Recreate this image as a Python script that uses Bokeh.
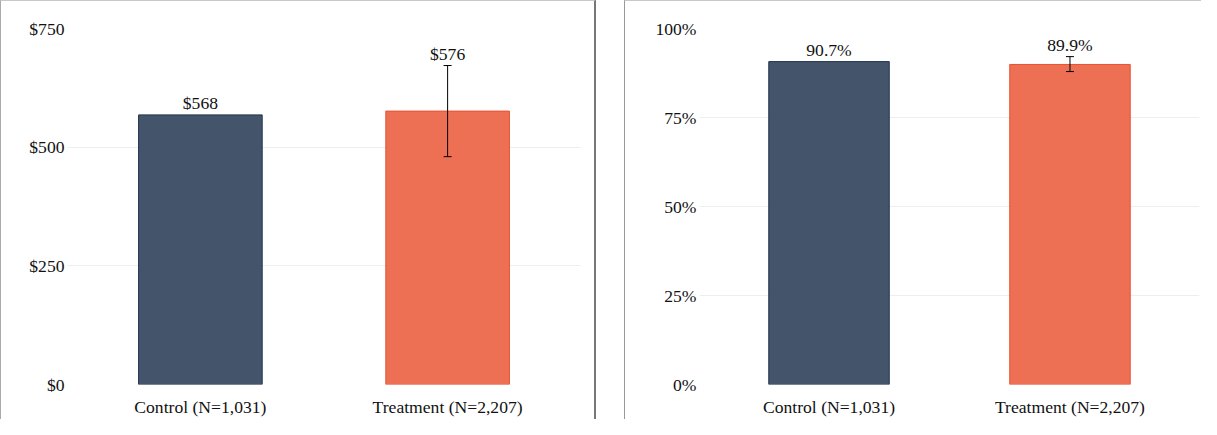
from bokeh.plotting import figure
from bokeh.layouts import row
from bokeh.models import (ColumnDataSource, FactorRange, FixedTicker, NumeralTickFormatter,
                          Whisker, TeeHead, Spacer, Range1d)
from bokeh.core.properties import value
from bokeh.embed import file_html
from bokeh.resources import INLINE

categories = ["Control (N=1,031)", "Treatment (N=2,207)"]
spend_values = [568, 576]
spend_err_low = [None, 480]
spend_err_high = [None, 672]
spend_labels = ["$568", "$576"]
rate_values = [0.907, 0.899]
rate_err_low = [None, 0.879]
rate_err_high = [None, 0.921]
rate_labels = ["90.7%", "89.9%"]
fills = ["#44546A", "#ED7055"]
outlines = ["#1F3550", "#E8512F"]

FONT = "Liberation Serif"
FSIZE = "17.6px"


def make_panel(vals, lo, hi, labels, ymax, ticks, fmt, width, mbl, mbr, border_css):
    p = figure(x_range=FactorRange(*categories, range_padding=0.0375, range_padding_units="absolute"),
               y_range=Range1d(0, ymax), width=width, height=419,
               output_backend="svg", toolbar_location=None,
               min_border_left=mbl, min_border_right=mbr, min_border_top=27, min_border_bottom=36,
               styles=border_css)
    src = ColumnDataSource(dict(x=categories, top=vals, fill=fills, line=outlines))
    p.vbar(x="x", top="top", width=0.5, source=src, fill_color="fill", line_color="line", line_width=1)

    ex = [c for c, l in zip(categories, lo) if l is not None]
    el = [l for l in lo if l is not None]
    eh = [h for h in hi if h is not None]
    esrc = ColumnDataSource(dict(x=ex, lower=el, upper=eh))
    w = Whisker(source=esrc, base="x", lower="lower", upper="upper", line_color="black", line_width=1,
                level="annotation",
                upper_head=TeeHead(size=8, line_color="black", line_width=1),
                lower_head=TeeHead(size=8, line_color="black", line_width=1))
    p.add_layout(w)

    ly = [max(v, h) if h is not None else v for v, h in zip(vals, hi)]
    lsrc = ColumnDataSource(dict(x=categories, y=ly, t=labels))
    p.text(x="x", y="y", text="t", source=lsrc, text_align="center", text_baseline="bottom",
           y_offset=-2, text_font=value(FONT), text_font_size=FSIZE, text_color="#111111")

    p.yaxis.ticker = FixedTicker(ticks=ticks)
    p.yaxis.formatter = NumeralTickFormatter(format=fmt)
    for ax in (p.xaxis, p.yaxis):
        ax.axis_line_color = None
        ax.major_tick_line_color = None
        ax.minor_tick_line_color = None
        ax.major_tick_in = 0
        ax.major_tick_out = 0
        ax.major_label_text_font = FONT
        ax.major_label_text_font_size = FSIZE
        ax.major_label_text_color = "#111111"
    p.yaxis.major_label_standoff = 3
    p.xaxis.major_label_standoff = 12
    p.xgrid.grid_line_color = None
    p.ygrid.grid_line_color = "#EBEFF0"
    p.ygrid.grid_line_width = 1
    p.outline_line_color = None
    p.background_fill_color = "white"
    p.border_fill_color = "white"
    return p


p1 = make_panel(spend_values, spend_err_low, spend_err_high, spend_labels, 750,
                [0, 250, 500, 750], "$0,0", 596, 66, 17,
                {"border-top": "1px solid #C8C8C8", "border-left": "1px solid #AAAAAA",
                 "border-right": "2px solid #777777", "box-sizing": "border-box"})
p2 = make_panel(rate_values, rate_err_low, rate_err_high, rate_labels, 1.0,
                [0, 0.25, 0.5, 0.75, 1.0], "0%", 577, 74, 3,
                {"border-top": "1px solid #C8C8C8", "border-left": "1px solid #999999",
                 "box-sizing": "border-box"})

layout = row(p1, Spacer(width=28, height=10), p2)
open("out.html", "w").write(file_html(layout, INLINE))
